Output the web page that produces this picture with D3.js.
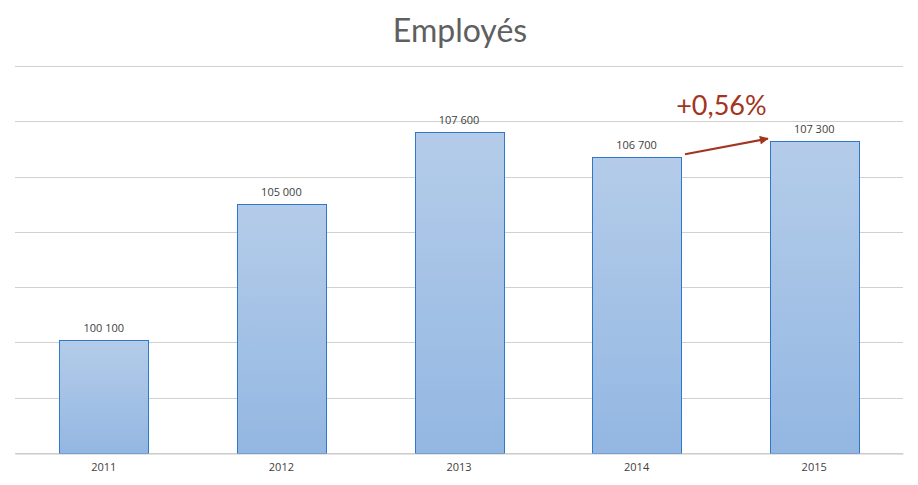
<!DOCTYPE html>
<html>
<head>
<meta charset="utf-8">
<script src="https://cdn.jsdelivr.net/npm/d3@7"></script>
<style>
  body { margin: 0; background: #fff; }
  svg text { font-family: "Open Sans", "DejaVu Sans", sans-serif; }
</style>
</head>
<body>
<div id="chart"></div>
<script>
// donnees du graphique
var years = ["2011", "2012", "2013", "2014", "2015"];
var employes = [100100, 105000, 107600, 106700, 107300];
var gridTicks = [96000, 98000, 100000, 102000, 104000, 106000, 108000, 110000];
var titre = "Employés";
var variation = "+0,56%";

var width = 918, height = 485;
var plotLeft = 15, plotRight = 903, plotTop = 66, plotBottom = 453;

var svg = d3.select("#chart").append("svg")
    .attr("width", width).attr("height", height);

var defs = svg.append("defs");
var grad = defs.append("linearGradient").attr("id", "barGrad")
    .attr("x1", 0).attr("y1", 0).attr("x2", 0).attr("y2", 1);
grad.append("stop").attr("offset", "0%").attr("stop-color", "#b4cce9");
grad.append("stop").attr("offset", "100%").attr("stop-color", "#93b7e2");

var xScale = d3.scaleBand().domain(years).range([plotLeft, plotRight]).paddingInner(0.5).paddingOuter(0.25);
var yScale = d3.scaleLinear().domain([96000, 110000]).range([plotBottom, plotTop]);

// titre
svg.append("text")
    .attr("x", width / 2 + 1).attr("y", 42)
    .attr("text-anchor", "middle")
    .style("font-family", "Lato, 'Open Sans', sans-serif")
    .style("font-size", "32px")
    .attr("fill", "#5f5f5f")
    .text(titre);

// grille
svg.append("g").selectAll("line")
    .data(gridTicks)
    .enter().append("line")
    .attr("x1", plotLeft).attr("x2", plotRight)
    .attr("y1", function(d) { return Math.round(yScale(d)) + 0.5; })
    .attr("y2", function(d) { return Math.round(yScale(d)) + 0.5; })
    .attr("stroke", "#d0d0d0").attr("stroke-width", 1);

// barres
svg.append("g").selectAll("rect")
    .data(employes)
    .enter().append("rect")
    .attr("x", function(d, i) { return Math.round(xScale(years[i])) + 0.5; })
    .attr("y", function(d) { return Math.round(yScale(d)) + 0.5; })
    .attr("width", Math.round(xScale.bandwidth()))
    .attr("height", function(d) { return plotBottom - Math.round(yScale(d)); })
    .attr("fill", "url(#barGrad)")
    .attr("stroke", "#2f77c9").attr("stroke-width", 1);

// valeurs
var fmt = function(v) { return d3.format(",")(v).replace(",", " "); };
svg.append("g").selectAll("text")
    .data(employes)
    .enter().append("text")
    .attr("x", function(d, i) { return xScale(years[i]) + xScale.bandwidth() / 2; })
    .attr("y", function(d) { return yScale(d) - 8; })
    .attr("text-anchor", "middle")
    .style("font-size", "11px")
    .attr("fill", "#404040")
    .text(fmt);

// axe x
var xAxis = d3.axisBottom(xScale).tickSize(0).tickPadding(10);
var gx = svg.append("g").attr("transform", "translate(0," + (plotBottom + 0.5) + ")").call(xAxis);
gx.select(".domain").attr("stroke", "#c8c8c8");
gx.selectAll("text").style("font-size", "11px").attr("fill", "#404040")
    .style("font-family", "'Open Sans', sans-serif");

// fleche de variation
defs.append("marker").attr("id", "arrowHead")
    .attr("viewBox", "0 0 10 10").attr("refX", 9).attr("refY", 5)
    .attr("markerWidth", 4.5).attr("markerHeight", 4)
    .attr("markerUnits", "strokeWidth")
    .attr("orient", "auto")
    .append("path").attr("d", "M0,0 L10,5 L0,10 Z").attr("fill", "#a33420");

var x0 = xScale("2014") + xScale.bandwidth() + 4;
var x1 = xScale("2015") - 2;
svg.append("line")
    .attr("x1", x0).attr("y1", yScale(employes[3]) - 3)
    .attr("x2", x1).attr("y2", yScale(employes[4]) - 2)
    .attr("stroke", "#a33420").attr("stroke-width", 2.2)
    .attr("marker-end", "url(#arrowHead)");

svg.append("text")
    .attr("x", (x0 + x1) / 2 - 5).attr("y", 115)
    .attr("text-anchor", "middle")
    .style("font-family", "Lato, 'Open Sans', sans-serif")
    .style("font-size", "27px")
    .attr("fill", "#a33420")
    .text(variation);
</script>
</body>
</html>
